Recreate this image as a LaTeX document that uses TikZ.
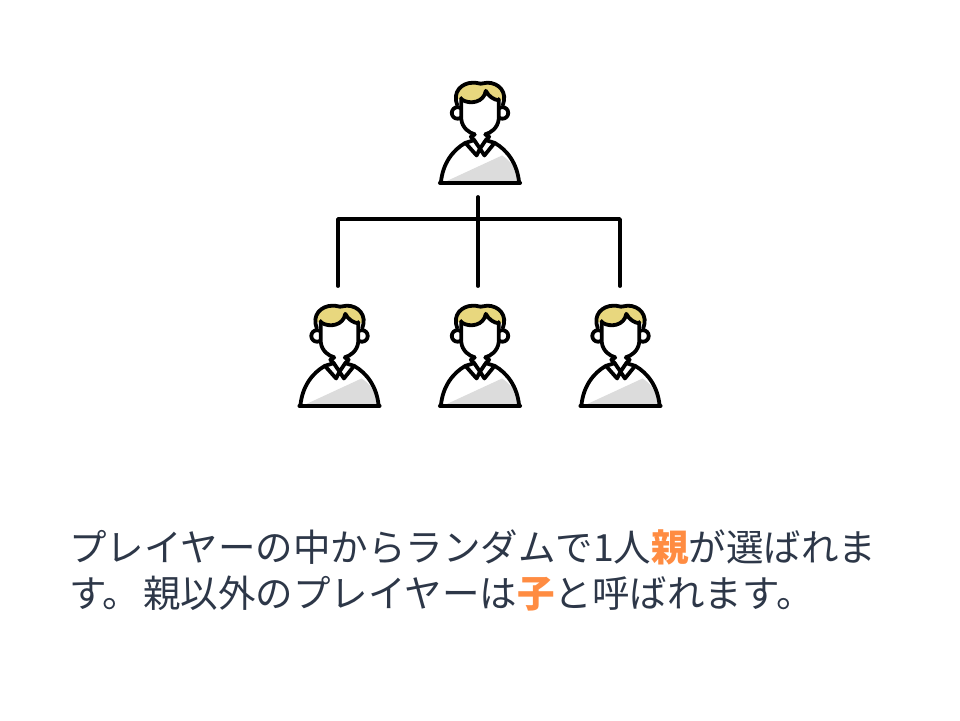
\documentclass[tikz,border=0pt]{standalone}
\usepackage{fontspec}
\setmainfont{Liberation Sans}
\newfontfamily\jpfont{Noto Sans CJK JP}
\definecolor{inkline}{HTML}{2D3748}
\definecolor{accent}{HTML}{FF8C42}
\definecolor{hairyellow}{HTML}{E8D77E}
\definecolor{shirtgray}{HTML}{DCDCDC}
\tikzset{
  outline/.style={draw=black, line width=3.8pt, line cap=round, line join=round},
  caption/.style={anchor=base west, inner sep=0pt, text=inkline, font=\jpfont\fontsize{37.5}{37.5}\selectfont},
  pics/person/.style={code={
    % shirt
    \fill[shirtgray] (-108,146) -- (65,66) .. controls (95,85) and (112,115) .. (115,146) -- cycle;
    \draw[outline] (-115,146) .. controls (-110,90) and (-80,50) .. (-43,29);
    \draw[outline] (115,146) .. controls (110,90) and (80,50) .. (43,29);
    \draw[outline] (-118,146) -- (118,146);
    % collar and neck
    \draw[outline] (-15,4) -- (-27,11) -- (-17,21) -- (-43,29) -- (-10,66) -- (0,46) -- (13,66) -- (43,29) -- (17,21) -- (27,11) -- (15,4);
    \draw[outline] (-17,21) -- (0,46) -- (17,21);
    % ears
    \draw[outline, fill=white] (-66,-59) circle (17);
    \draw[outline, fill=white] (66,-59) circle (17);
    % hair
    \fill[white] (-67,-82) .. controls (-82,-120) and (-55,-148) .. (-20,-148) -- (22,-148) .. controls (55,-148) and (82,-120) .. (67,-82) -- cycle;
    \fill[hairyellow] (-70,-99) .. controls (-76,-125) and (-55,-148) .. (-20,-148) .. controls (-8,-148) and (-2,-145) .. (2,-145) .. controls (8,-145) and (14,-148) .. (22,-148) .. controls (55,-148) and (76,-125) .. (68,-96) -- (55,-96) .. controls (40,-98) and (25,-108) .. (17,-124) .. controls (12,-90) and (-30,-82) .. (-55,-99) -- cycle;
    \draw[outline] (-67,-82) .. controls (-82,-120) and (-55,-148) .. (-20,-148) .. controls (-8,-148) and (-2,-145) .. (2,-145) .. controls (8,-145) and (14,-148) .. (22,-148) .. controls (55,-148) and (82,-120) .. (67,-82);
    % face
    \fill[white] (-55,-99) .. controls (-30,-82) and (12,-90) .. (17,-124) .. controls (25,-108) and (40,-98) .. (55,-96) -- (55,-40) .. controls (52,-15) and (32,0) .. (15,4) -- (-15,4) .. controls (-32,0) and (-52,-15) .. (-55,-40) -- cycle;
    \draw[outline] (-55,-99) .. controls (-30,-82) and (12,-90) .. (17,-124) .. controls (25,-108) and (40,-98) .. (55,-96);
    \draw[outline] (-55,-103) -- (-55,-40) .. controls (-52,-15) and (-32,0) .. (-15,4);
    \draw[outline] (55,-100) -- (55,-40) .. controls (52,-15) and (32,0) .. (15,4);
  }}
}
\begin{document}
\begin{tikzpicture}[x=1pt,y=-1pt]
  \useasboundingbox (0,0) rectangle (960,720);
  % people
  \pic[scale=0.34] at (480,133) {person};
  \pic[scale=0.34] at (339.5,356) {person};
  \pic[scale=0.34] at (480,356) {person};
  \pic[scale=0.34] at (620.5,356) {person};
  % tree
  \coordinate (parentend) at (478,197);
  \coordinate (midend) at (478,286);
  \coordinate (leftend) at (338,286);
  \coordinate (rightend) at (620,286);
  \coordinate (leftcorner) at (338,219);
  \coordinate (rightcorner) at (620,219);
  \draw[outline] (parentend) -- (midend);
  \draw[outline] (leftend) -- (leftcorner) -- (rightcorner) -- (rightend);
  % caption
  \node[caption] (lineone) at (69,561) {プレイヤーの中からランダムで1人\textcolor{accent}{\bfseries 親}が選ばれま};
  \node[caption] (linetwo) at (69,607) {す。\hspace{3pt}親以外のプレイヤーは\textcolor{accent}{\bfseries 子}と呼ばれます。};
\end{tikzpicture}
\end{document}
